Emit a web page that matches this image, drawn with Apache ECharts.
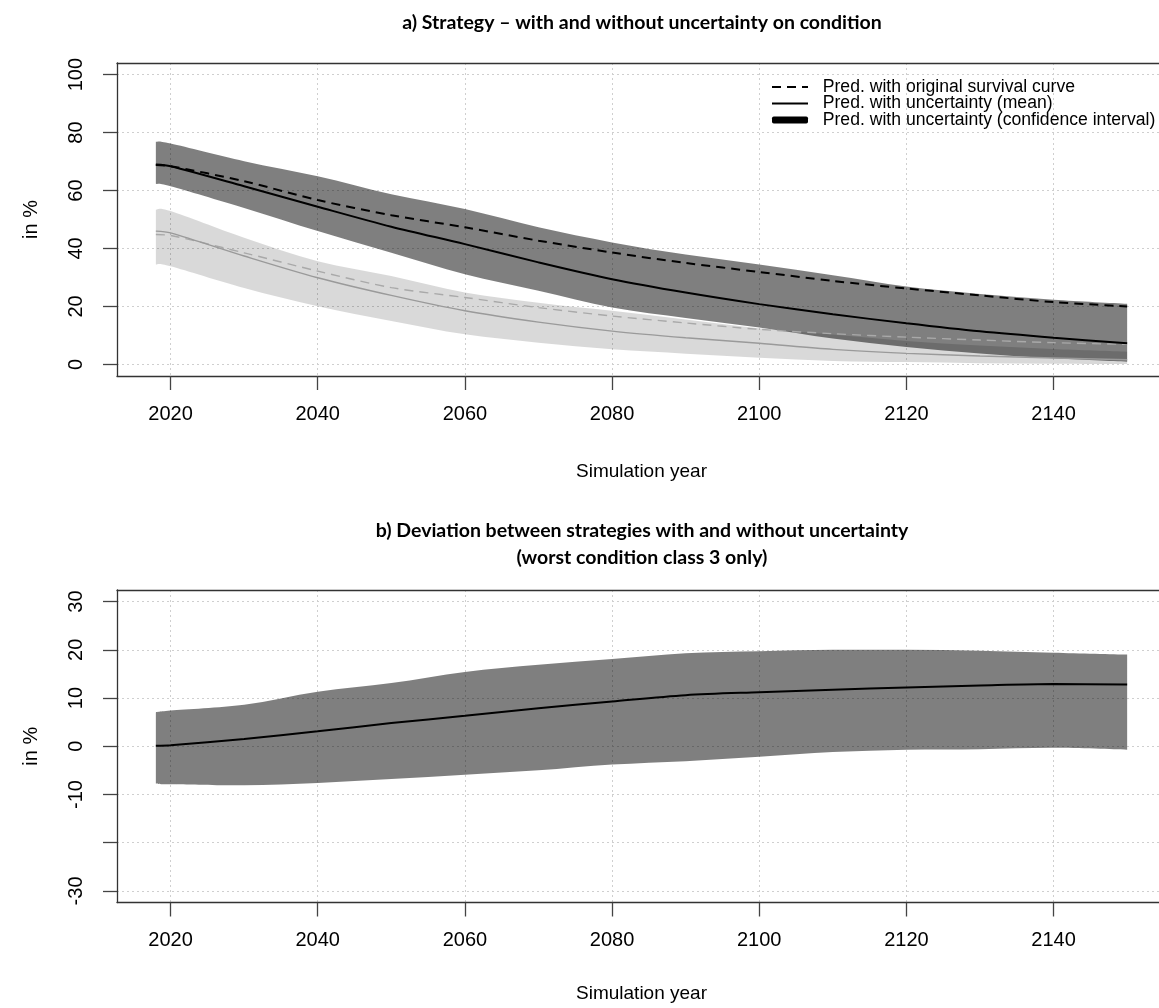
<!DOCTYPE html>
<html>
<head>
<meta charset="utf-8">
<title>Strategy with and without uncertainty</title>
<script src="https://cdn.jsdelivr.net/npm/echarts/dist/echarts.min.js"></script>
<style>
  html, body { margin: 0; padding: 0; background: #fff; overflow: hidden; }
  /* the plot box runs past the right edge of the picture, like the original */
  #chart { width: 1180px; height: 1008px; }
</style>
</head>
<body>
<div id="chart"></div>
<script>
// ---------------- data ----------------
var years = [2018, 2020, 2030, 2040, 2050, 2060, 2070, 2080, 2090, 2100, 2110, 2120, 2130, 2140, 2150];

// a) dark group (black lines)
var darkUpper = [76.8, 76.2, 70.1, 64.9, 58.7, 53.6, 47.3, 42.1, 37.9, 34.5, 30.8, 26.9, 24.3, 22.3, 20.9];
var darkLower = [62.3, 61.5, 54.0, 46.0, 38.5, 31.1, 25.4, 19.6, 16.0, 12.7, 8.9, 6.0, 3.8, 2.1, 0.9];
var darkMean  = [69.0, 68.4, 61.5, 54.4, 47.5, 41.5, 35.2, 29.4, 24.8, 20.8, 17.3, 14.2, 11.4, 9.2, 7.3];
var darkOrig  = [68.8, 68.4, 63.2, 56.7, 51.5, 47.3, 42.7, 38.6, 35.0, 31.9, 28.8, 26.2, 23.8, 21.5, 20.0];

// a) light group (grey lines)
var lightUpper = [53.4, 52.9, 43.7, 35.6, 30.5, 24.8, 21.3, 18.5, 15.5, 12.5, 10.3, 8.1, 6.5, 5.3, 4.4];
var lightLower = [34.5, 33.9, 26.4, 20.1, 15.0, 10.4, 7.5, 5.2, 3.7, 2.3, 1.2, 0.8, 0.4, 0.2, 0.1];
var lightMean  = [46.0, 45.4, 37.4, 29.9, 23.8, 18.5, 14.6, 11.5, 9.2, 7.3, 5.2, 3.8, 2.9, 2.2, 1.6];
var lightOrig  = [44.8, 44.5, 38.5, 32.2, 26.5, 23.1, 19.6, 16.7, 14.3, 12.1, 10.6, 9.4, 8.4, 7.5, 6.9];

// b) deviation
var devUpper = [7.0, 7.4, 8.6, 11.3, 13.1, 15.4, 16.9, 18.1, 19.3, 19.7, 20.0, 20.0, 19.8, 19.4, 19.0];
var devLower = [-7.7, -7.9, -8.1, -7.6, -6.8, -5.9, -5.0, -3.8, -3.1, -2.2, -1.2, -0.7, -0.6, -0.3, -0.7];
var devMean  = [0.1, 0.2, 1.5, 3.1, 4.8, 6.3, 7.9, 9.3, 10.6, 11.2, 11.7, 12.2, 12.6, 12.9, 12.8];

// tick labels
var xTicks = [2020, 2040, 2060, 2080, 2100, 2120, 2140];
var yTicksA = [0, 20, 40, 60, 80, 100];
var yTicksB = [-30, -20, -10, 0, 10, 20, 30];
var yLabelsB = [-30, -10, 0, 10, 20, 30];

var legendNames = ['Pred. with original survival curve', 'Pred. with uncertainty (mean)', 'Pred. with uncertainty (confidence interval)'];

// ---------------- helpers ----------------
function pairs(vals) {
    return years.map(function (y, i) { return [y, vals[i]]; });
}

var font = "'Liberation Sans', Arial, sans-serif";
var SMOOTH = 0.3;
var XMIN = 2012.72, XMAX = 2155.28;
var boxLine = { show: true, onZero: false, lineStyle: { color: '#333', width: 1.3 } };

function xAxisFor(idx, gap) {
    return {
        type: 'value', gridIndex: idx, min: XMIN, max: XMAX,
        axisLine: boxLine,
        axisTick: { show: true, length: 14, customValues: xTicks, lineStyle: { color: '#444', width: 1.3 } },
        axisLabel: {
            customValues: xTicks, fontSize: 20, color: '#000', margin: 28, fontFamily: font,
            formatter: function (v) { return String(v); }
        },
        splitLine: { show: true, lineStyle: { color: '#cfcfcf', width: 1, type: [2, 3] } },
        name: 'Simulation year', nameLocation: 'middle', nameGap: gap,
        nameTextStyle: { fontSize: 19, color: '#000', fontFamily: font }
    };
}
// top edge of the box only
function topAxisFor(idx) {
    return {
        type: 'value', gridIndex: idx, min: XMIN, max: XMAX, position: 'top',
        axisLine: boxLine, axisTick: { show: false }, axisLabel: { show: false }, splitLine: { show: false }
    };
}
function yAxisFor(idx, min, max, ticks, labels) {
    return {
        type: 'value', gridIndex: idx, min: min, max: max,
        axisLine: boxLine,
        axisTick: { show: true, length: 14, customValues: ticks, lineStyle: { color: '#444', width: 1.3 } },
        axisLabel: { customValues: labels, rotate: 90, fontSize: 20, color: '#000', margin: 31, fontFamily: font },
        splitLine: { show: true, lineStyle: { color: '#cfcfcf', width: 1, type: [2, 3] } },
        name: 'in %', nameLocation: 'middle', nameGap: 76,
        nameTextStyle: { fontSize: 20, color: '#000', fontFamily: font }
    };
}

// smooth path (catmull-rom as cubic beziers) through pixel points
function curveTo(pts) {
    var d = '';
    for (var i = 0; i < pts.length - 1; i++) {
        var p0 = pts[Math.max(i - 1, 0)], p1 = pts[i], p2 = pts[i + 1], p3 = pts[Math.min(i + 2, pts.length - 1)];
        var c1 = [p1[0] + (p2[0] - p0[0]) / 6, p1[1] + (p2[1] - p0[1]) / 6];
        var c2 = [p2[0] - (p3[0] - p1[0]) / 6, p2[1] - (p3[1] - p1[1]) / 6];
        d += ' C' + c1[0] + ',' + c1[1] + ' ' + c2[0] + ',' + c2[1] + ' ' + p2[0] + ',' + p2[1];
    }
    return d;
}

// confidence band: one closed shape along the upper values, back along the lower values
function band(name, idx, up, lo, fill) {
    return {
        name: name, type: 'custom', xAxisIndex: idx, yAxisIndex: idx, silent: true,
        itemStyle: { color: '#000' },
        data: years.map(function (y, i) { return [y, lo[i], up[i]]; }),
        renderItem: function (params, api) {
            if (params.dataIndex !== 0) return;
            var top = years.map(function (y, i) { return api.coord([y, up[i]]); });
            var bot = years.map(function (y, i) { return api.coord([y, lo[i]]); }).reverse();
            var d = 'M' + top[0][0] + ',' + top[0][1] + curveTo(top) +
                    ' L' + bot[0][0] + ',' + bot[0][1] + curveTo(bot) + ' Z';
            return { type: 'path', shape: { pathData: d }, style: { fill: fill, stroke: null } };
        }
    };
}
function line(name, idx, vals, color, w, dash) {
    return {
        name: name, type: 'line', xAxisIndex: idx, yAxisIndex: idx,
        smooth: SMOOTH, symbol: 'none', silent: true,
        itemStyle: { color: color },
        lineStyle: { color: color, width: w, type: dash || 'solid' },
        data: pairs(vals)
    };
}

var series = [
    band('light band', 0, lightUpper, lightLower, 'rgba(0,0,0,0.15)'),
    line('light orig', 0, lightOrig, '#a9a9a9', 1.4, [9, 6]),
    line('light mean', 0, lightMean, '#9a9a9a', 1.4),
    band(legendNames[2], 0, darkUpper, darkLower, 'rgba(0,0,0,0.5)'),
    line(legendNames[0], 0, darkOrig, '#000', 2, [9, 6]),
    line(legendNames[1], 0, darkMean, '#000', 2),
    band('deviation band', 1, devUpper, devLower, 'rgba(0,0,0,0.5)'),
    line('deviation mean', 1, devMean, '#000', 2)
];

var dom = document.getElementById('chart');
var myChart = echarts.init(dom, null, { renderer: 'canvas' });
var option = {
    animation: false,
    backgroundColor: '#fff',
    title: [{
        text: 'a) Strategy \u2013 with and without uncertainty on condition',
        left: 637, top: 8, textAlign: 'center',
        textStyle: { fontFamily: 'Lato, sans-serif', fontWeight: 'bold', fontSize: 19.5, color: '#000' }
    }, {
        text: 'b) Deviation between strategies with and without uncertainty\n(worst condition class 3 only)',
        left: 637, top: 512, textAlign: 'center',
        textStyle: { fontFamily: 'Lato, sans-serif', fontWeight: 'bold', fontSize: 19.5, lineHeight: 27, color: '#000' }
    }],
    legend: {
        left: 766, top: 73, orient: 'vertical',
        itemWidth: 36, itemHeight: 7, itemGap: -1.5,
        selectedMode: false,
        formatter: '  {name}',
        textStyle: { fontSize: 17.6, lineHeight: 16.7, color: '#000', fontFamily: font },
        data: [
            { name: legendNames[0], itemStyle: { opacity: 0 } },
            { name: legendNames[1], itemStyle: { opacity: 0 } },
            { name: legendNames[2], icon: 'roundRect', itemStyle: { color: '#000' } }
        ]
    },
    grid: [
        { left: 117, top: 63, width: 1049, height: 313, outerBoundsMode: 'none', containLabel: false, show: false },
        { left: 117, top: 590, width: 1049, height: 312.5, outerBoundsMode: 'none', containLabel: false, show: false }
    ],
    xAxis: [xAxisFor(0, 86), xAxisFor(1, 82), topAxisFor(0), topAxisFor(1)],
    yAxis: [yAxisFor(0, -4, 104, yTicksA, yTicksA), yAxisFor(1, -32.4, 32.4, yTicksB, yLabelsB)],
    series: series
};
if (option && typeof option === "object") {
    myChart.setOption(option, true);
}
</script>
</body>
</html>
